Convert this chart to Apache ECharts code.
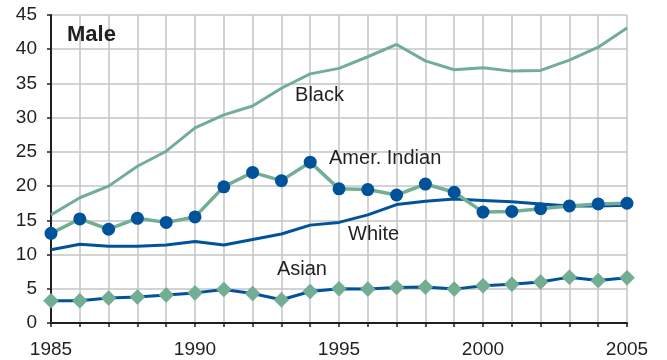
<!DOCTYPE html>
<html>
<head>
<meta charset="utf-8">
<script src="https://cdn.jsdelivr.net/npm/echarts@6/dist/echarts.min.js"></script>
<style>html,body{margin:0;padding:0;background:#fff}#c{width:667px;height:360px}</style>
</head>
<body>
<div id="c"></div>
<script>
const years = [1985,1986,1987,1988,1989,1990,1991,1992,1993,1994,1995,1996,1997,1998,1999,2000,2001,2002,2003,2004,2005];
const black = [15.8,18.3,20.0,22.9,25.1,28.5,30.4,31.7,34.3,36.4,37.2,38.9,40.7,38.3,37.0,37.3,36.8,36.9,38.4,40.3,43.1];
const amerIndian = [13.1,15.2,13.7,15.3,14.7,15.5,19.9,22.0,20.8,23.5,19.6,19.5,18.7,20.3,19.1,16.2,16.3,16.7,17.1,17.4,17.5];
const white = [10.7,11.5,11.2,11.2,11.4,11.9,11.4,12.2,13.0,14.3,14.7,15.8,17.3,17.8,18.1,17.9,17.7,17.4,17.1,17.1,17.2];
const asian = [3.25,3.25,3.65,3.8,4.1,4.4,4.9,4.3,3.4,4.6,5.0,4.95,5.2,5.25,4.95,5.45,5.65,6.0,6.7,6.2,6.6];
const xTickLabels = [1985,1990,1995,2000,2005];
const title = 'Male';
const seriesLabels = {black:'Black', amer:'Amer. Indian', white:'White', asian:'Asian'};

const GREEN = '#72ae93';
const BLUE = '#00539b';
const FONT = 'Liberation Sans, Arial, sans-serif';

const pairs = arr => arr.map((v,i)=>[years[i], v]);
const lbl = (text, x, y) => ({
  symbol:'circle', symbolSize:0, silent:true,
  data:[{coord:[x,y], label:{show:true, formatter:text, fontFamily:FONT, fontSize:20, color:'#231f20', position:'right'}}]
});

const chart = echarts.init(document.getElementById('c'), null, {renderer:'canvas'});
chart.setOption({
  animation:false,
  backgroundColor:'#fff',
  grid:{left:51, right:40, top:15, bottom:37, containLabel:false},
  xAxis:{
    type:'value', min:1985, max:2005, interval:1,
    axisLine:{show:true, onZero:false, lineStyle:{color:'#231f20', width:2}},
    axisTick:{show:true, length:4, lineStyle:{color:'#231f20', width:1.5}},
    splitLine:{show:true, lineStyle:{color:'#c4c4c4', width:1.5}},
    axisLabel:{
      fontFamily:FONT, fontSize:19, color:'#231f20', margin:17,
      formatter: v => xTickLabels.includes(v) ? String(v) : ''
    }
  },
  yAxis:{
    type:'value', min:0, max:45, interval:5,
    axisLine:{show:true, lineStyle:{color:'#231f20', width:2}},
    axisTick:{show:true, length:4, lineStyle:{color:'#231f20', width:1.5}},
    splitLine:{show:true, lineStyle:{color:'#c4c4c4', width:1.5}},
    axisLabel:{fontFamily:FONT, fontSize:19, color:'#231f20', margin:14}
  },
  graphic:[
    {type:'text', left:67, top:24, z:100, style:{text:title, font:'bold 22px '+FONT, fill:'#231f20'}}
  ],
  series:[
    {name:seriesLabels.black, type:'line', data:pairs(black), symbol:'none',
     lineStyle:{color:GREEN, width:3}, z:3, markPoint:lbl(seriesLabels.black, 1993.3, 33.2)},
    {name:seriesLabels.white, type:'line', data:pairs(white), symbol:'none',
     lineStyle:{color:BLUE, width:3}, z:3, markPoint:lbl(seriesLabels.white, 1995.14, 12.9)},
    {name:seriesLabels.amer, type:'line', data:pairs(amerIndian), symbol:'circle', symbolSize:13,
     itemStyle:{color:BLUE, borderWidth:0}, lineStyle:{color:GREEN, width:3.5}, z:4,
     markPoint:lbl(seriesLabels.amer, 1994.48, 24.1)},
    {name:seriesLabels.asian, type:'line', data:pairs(asian), symbol:'diamond', symbolSize:[15,15],
     itemStyle:{color:GREEN, borderColor:'#5f9c80', borderWidth:0.5}, lineStyle:{color:BLUE, width:3}, z:4,
     markPoint:lbl(seriesLabels.asian, 1992.67, 7.8)}
  ]
});
</script>
</body>
</html>
